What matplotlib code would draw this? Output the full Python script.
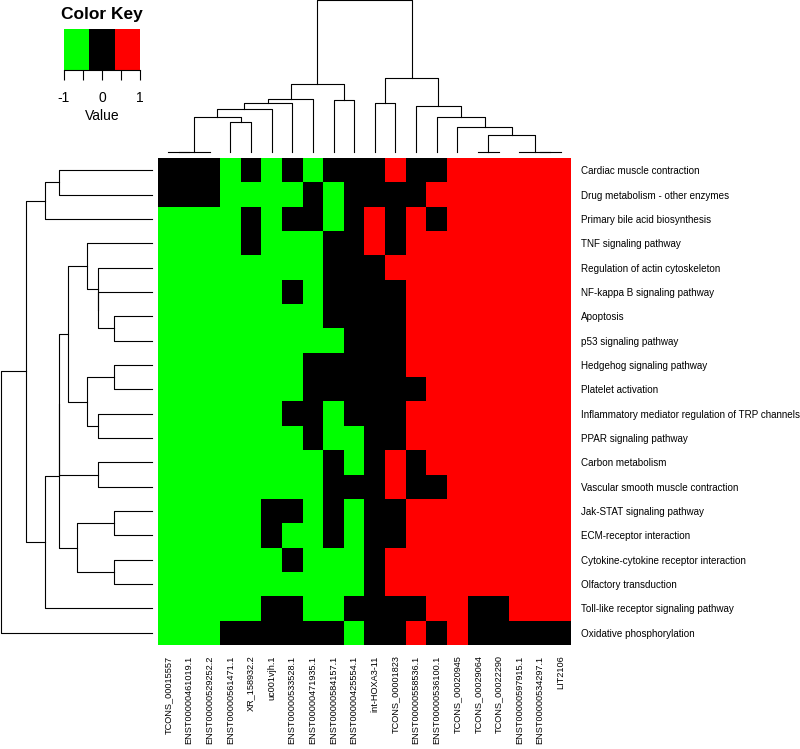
import numpy as np
import matplotlib
matplotlib.use("Agg")
import matplotlib.pyplot as plt
from matplotlib.colors import ListedColormap, BoundaryNorm

plt.rcParams['font.family'] = ['Liberation Sans', 'DejaVu Sans']

# ---- data ----
pathways = [
    "Cardiac muscle contraction",
    "Drug metabolism - other enzymes",
    "Primary bile acid biosynthesis",
    "TNF signaling pathway",
    "Regulation of actin cytoskeleton",
    "NF-kappa B signaling pathway",
    "Apoptosis",
    "p53 signaling pathway",
    "Hedgehog signaling pathway",
    "Platelet activation",
    "Inflammatory mediator regulation of TRP channels",
    "PPAR signaling pathway",
    "Carbon metabolism",
    "Vascular smooth muscle contraction",
    "Jak-STAT signaling pathway",
    "ECM-receptor interaction",
    "Cytokine-cytokine receptor interaction",
    "Olfactory transduction",
    "Toll-like receptor signaling pathway",
    "Oxidative phosphorylation",
]

transcripts = [
    "TCONS_00015557", "ENST00000461019.1", "ENST00000529252.2",
    "ENST00000561471.1", "XR_158932.2", "uc001vjh.1", "ENST00000533528.1",
    "ENST00000471935.1", "ENST00000584157.1", "ENST00000425554.1",
    "int-HOXA3-11", "TCONS_00001823", "ENST00000558536.1",
    "ENST00000536100.1", "TCONS_00020945", "TCONS_00029064",
    "TCONS_00022290", "ENST00000597915.1", "ENST00000534297.1", "LIT2106",
]

# -1 = down, 0 = none, 1 = up
scores = np.array([
    [ 0, 0, 0,-1, 0,-1, 0,-1, 0, 0, 0, 1, 0, 0, 1, 1, 1, 1, 1, 1],
    [ 0, 0, 0,-1,-1,-1,-1, 0,-1, 0, 0, 0, 0, 1, 1, 1, 1, 1, 1, 1],
    [-1,-1,-1,-1, 0,-1, 0, 0,-1, 0, 1, 0, 1, 0, 1, 1, 1, 1, 1, 1],
    [-1,-1,-1,-1, 0,-1,-1,-1, 0, 0, 1, 0, 1, 1, 1, 1, 1, 1, 1, 1],
    [-1,-1,-1,-1,-1,-1,-1,-1, 0, 0, 0, 1, 1, 1, 1, 1, 1, 1, 1, 1],
    [-1,-1,-1,-1,-1,-1, 0,-1, 0, 0, 0, 0, 1, 1, 1, 1, 1, 1, 1, 1],
    [-1,-1,-1,-1,-1,-1,-1,-1, 0, 0, 0, 0, 1, 1, 1, 1, 1, 1, 1, 1],
    [-1,-1,-1,-1,-1,-1,-1,-1,-1, 0, 0, 0, 1, 1, 1, 1, 1, 1, 1, 1],
    [-1,-1,-1,-1,-1,-1,-1, 0, 0, 0, 0, 0, 1, 1, 1, 1, 1, 1, 1, 1],
    [-1,-1,-1,-1,-1,-1,-1, 0, 0, 0, 0, 0, 0, 1, 1, 1, 1, 1, 1, 1],
    [-1,-1,-1,-1,-1,-1, 0, 0,-1, 0, 0, 0, 1, 1, 1, 1, 1, 1, 1, 1],
    [-1,-1,-1,-1,-1,-1,-1, 0,-1,-1, 0, 0, 1, 1, 1, 1, 1, 1, 1, 1],
    [-1,-1,-1,-1,-1,-1,-1,-1, 0,-1, 0, 1, 0, 1, 1, 1, 1, 1, 1, 1],
    [-1,-1,-1,-1,-1,-1,-1,-1, 0, 0, 0, 1, 0, 0, 1, 1, 1, 1, 1, 1],
    [-1,-1,-1,-1,-1, 0, 0,-1, 0,-1, 0, 0, 1, 1, 1, 1, 1, 1, 1, 1],
    [-1,-1,-1,-1,-1, 0,-1,-1, 0,-1, 0, 0, 1, 1, 1, 1, 1, 1, 1, 1],
    [-1,-1,-1,-1,-1,-1, 0,-1,-1,-1, 0, 1, 1, 1, 1, 1, 1, 1, 1, 1],
    [-1,-1,-1,-1,-1,-1,-1,-1,-1,-1, 0, 1, 1, 1, 1, 1, 1, 1, 1, 1],
    [-1,-1,-1,-1,-1, 0, 0,-1,-1, 0, 0, 0, 0, 1, 1, 0, 0, 1, 1, 1],
    [-1,-1,-1, 0, 0, 0, 0, 0, 0,-1, 0, 0, 1, 0, 1, 0, 0, 0, 0, 0],
])

# cluster trees: (left, right, height); ints are leaves, "mK" is the K-th merge
col_tree = [
    (0, 1, 0), ("m0", 2, 0), (3, 4, 89), ("m1", "m2", 103),
    ("m3", 5, 128), ("m4", 6, 145), ("m5", 7, 157), (8, 9, 155),
    ("m6", "m7", 203), (10, 11, 145), (15, 16, 0), (18, 19, 0),
    (17, "m11", 0), ("m10", "m12", 50), (14, "m13", 73), (13, "m14", 103),
    (12, "m15", 137), ("m9", "m16", 220), ("m8", "m17", 455),
]

row_tree = [
    (0, 1, 279), ("m0", 2, 323), (6, 7, 114), (5, "m2", 164),
    (4, "m3", 164), (3, "m4", 197), (8, 9, 114), (10, 11, 164),
    ("m6", "m7", 197), ("m5", "m8", 254), (12, 13, 164), ("m9", "m10", 279),
    (14, 15, 114), (16, 17, 114), ("m12", "m13", 227), ("m11", "m14", 279),
    ("m15", 18, 323), ("m1", "m16", 379), ("m17", 19, 454),
]

key_breaks = [-1, -1/3, 1/3, 1]
key_ticks = [-1, -0.5, 0, 0.5, 1]
key_ticklabels = ["-1", "", "0", "", "1"]

colors = ["#00FF00", "#000000", "#FF0000"]


def dendro_lines(tree):
    pos, hgt, lines = {}, {}, []

    def get(k):
        if isinstance(k, str):
            return pos[k], hgt[k]
        return float(k), 0.0

    for j, (a, b, h) in enumerate(tree):
        pa, ha = get(a)
        pb, hb = get(b)
        lines.append(([pa, pa, pb, pb], [ha, h, h, hb]))
        pos["m%d" % j] = (pa + pb) / 2
        hgt["m%d" % j] = h
    return lines


W, H = 800, 749
fig = plt.figure(figsize=(W / 100, H / 100), dpi=100)


def box(x0, y0, x1, y1):
    # pixel box -> figure fraction
    return [x0 / W, 1 - y1 / H, (x1 - x0) / W, (y1 - y0) / H]


hm_l, hm_t, hm_r, hm_b = 158, 158, 571, 645

# heatmap
ax = fig.add_axes(box(hm_l, hm_t, hm_r, hm_b))
cmap = ListedColormap(colors)
ax.imshow(scores, cmap=cmap, vmin=-1.5, vmax=1.5, aspect="auto",
          interpolation="nearest")
ax.set_xticks(range(len(transcripts)))
ax.set_xticklabels(transcripts, rotation=90, fontsize=6.6, va="top")
ax.set_yticks(range(len(pathways)))
ax.set_yticklabels(pathways, fontsize=7.1)
ax.yaxis.tick_right()
ax.tick_params(axis="x", length=0, pad=7.5)
ax.tick_params(axis="y", length=0, pad=7)
for s in ax.spines.values():
    s.set_visible(False)

# column dendrogram
axc = fig.add_axes(box(hm_l, 0.3, hm_r, 151.7))
for xs, ys in dendro_lines(col_tree):
    axc.plot(xs, ys, color="black", lw=0.8, clip_on=False)
axc.set_xlim(-0.5, len(transcripts) - 0.5)
axc.set_ylim(0, col_tree[-1][2])
axc.axis("off")

# row dendrogram
axr = fig.add_axes(box(1, hm_t, 152.3, hm_b))
for ys, xs in dendro_lines(row_tree):
    axr.plot(xs, ys, color="black", lw=0.8, clip_on=False)
axr.set_ylim(len(pathways) - 0.5, -0.5)
axr.set_xlim(row_tree[-1][2], 0)
axr.axis("off")

# color key
axk = fig.add_axes(box(64, 29, 140, 70))
axk.pcolormesh(key_breaks, [0, 1], [[-1, 0, 1]], cmap=cmap,
               norm=BoundaryNorm([-1.5, -0.5, 0.5, 1.5], 3))
axk.set_xlim(-1, 1)
axk.set_ylim(0, 1)
axk.set_yticks([])
axk.set_xticks(key_ticks)
axk.set_xticklabels(key_ticklabels, fontsize=10)
axk.tick_params(axis="x", length=7, width=0.8, pad=8)
for side in ["top", "left", "right"]:
    axk.spines[side].set_visible(False)
axk.spines["bottom"].set_linewidth(0.8)
axk.set_xlabel("Value", fontsize=10, labelpad=3)
axk.set_title("Color Key", fontsize=12.5, fontweight="bold", pad=7)

fig.savefig("out.png", dpi=100)
